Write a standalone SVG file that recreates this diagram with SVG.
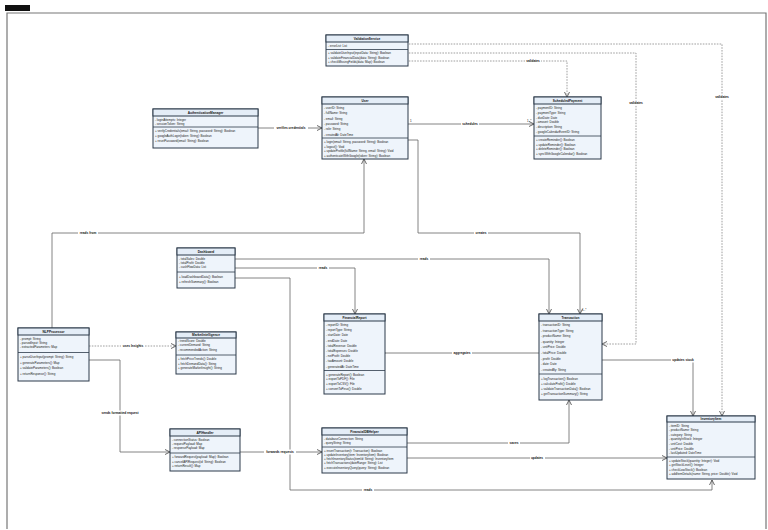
<svg xmlns="http://www.w3.org/2000/svg" width="768" height="530" viewBox="0 0 768 530">
<defs>
<style>
.bg{fill:#ffffff}
.frame{fill:none;stroke:#777;stroke-width:1.2}
.box{fill:#eef4fb;stroke:#2c3a4a;stroke-width:1}
.hd{fill:#e4edf7;stroke:#2c3a4a;stroke-width:1}
.dv{stroke:#2c3a4a;stroke-width:0.8}
.t{font-family:"Liberation Sans",Arial,sans-serif;font-size:3px;fill:#1a1a1a}
.h{font-family:"Liberation Sans",Arial,sans-serif;font-size:3.2px;fill:#111;font-weight:bold;text-anchor:middle}
.c{fill:none;stroke:#666;stroke-width:0.8}
.d{stroke-dasharray:1.6,1.2;stroke:#888}
.lb{font-family:"Liberation Sans",Arial,sans-serif;font-size:3.2px;fill:#111;font-weight:bold;text-anchor:middle}
.lr{fill:#ffffff}
.m{font-family:"Liberation Sans",Arial,sans-serif;font-size:3px;fill:#111}
</style>
<marker id="ar" markerWidth="6" markerHeight="6" refX="5.5" refY="3" orient="auto" markerUnits="userSpaceOnUse">
<path d="M0.5,0.5 L5.5,3 L0.5,5.5" fill="none" stroke="#444" stroke-width="0.8"/>
</marker>
<marker id="dm" markerWidth="9" markerHeight="6" refX="0.5" refY="3" orient="auto" markerUnits="userSpaceOnUse">
<path d="M0.5,3 L4.5,0.8 L8.5,3 L4.5,5.2 Z" fill="#fff" stroke="#444" stroke-width="0.7"/>
</marker>
</defs>
<rect class="bg" x="0" y="0" width="768" height="530"/>
<rect x="5" y="5" width="25" height="6" fill="#111"/>
<path class="frame" d="M7,529 V13 H766 V529"/>

<g id="connectors">
<path class="c" d="M258,128 H322" marker-end="url(#ar)"/>
<path class="c" d="M408,124 H534" marker-end="url(#ar)"/>
<path class="c d" d="M406,44 H722 V416" marker-end="url(#ar)"/>
<path class="c d" d="M406,53 H636 V344 H602" marker-end="url(#ar)"/>
<path class="c d" d="M406,61 H567 V97" marker-end="url(#ar)"/>
<path class="c" d="M52,328 V233 H364 V159" marker-end="url(#ar)"/>
<path class="c" d="M408,140 H418 V233 H580 V314" marker-end="url(#ar)"/>
<path class="c" d="M235,259 H549 V314" marker-end="url(#ar)"/>
<path class="c" d="M235,268 H355 V314" marker-end="url(#ar)"/>
<path class="c" d="M235,278 H290 V490 H712 V480" marker-end="url(#ar)"/>
<path class="c" d="M89,360 H120 V452 H170" marker-end="url(#ar)"/>
<path class="c d" d="M89,346 H176" marker-end="url(#ar)"/>
<path class="c" d="M240,452 H322" marker-end="url(#ar)"/>
<path class="c" d="M407,443 H569 V400" marker-end="url(#ar)"/>
<path class="c" d="M407,458 H667" marker-end="url(#ar)"/>
<path class="c" d="M602,360 H693 V416" marker-end="url(#ar)"/>
<path class="c" d="M539,353 H385.5" marker-end="url(#dm)"/>

<rect class="lr" x="274" y="125.5" width="34" height="5"/><text class="lb" x="291" y="129.2">verifies credentials</text>
<rect class="lr" x="461" y="121.5" width="18" height="5"/><text class="lb" x="470" y="125.2">schedules</text>
<text class="m" x="410" y="122">1</text>
<text class="m" x="527" y="121.5">1..*</text>
<rect class="lr" x="714" y="94.5" width="16" height="5"/><text class="lb" x="722" y="98.2">validates</text>
<rect class="lr" x="628" y="100.5" width="16" height="5"/><text class="lb" x="636" y="104.2">validates</text>
<rect class="lr" x="525" y="58.5" width="16" height="5"/><text class="lb" x="533" y="62.2">validates</text>
<rect class="lr" x="78" y="230.5" width="20" height="5"/><text class="lb" x="88" y="234.2">reads from</text>
<rect class="lr" x="474" y="230.5" width="14" height="5"/><text class="lb" x="481" y="234.2">creates</text>
<text class="m" x="582" y="311">1..*</text>
<rect class="lr" x="418" y="256.5" width="12" height="5"/><text class="lb" x="424" y="260.2">reads</text>
<rect class="lr" x="317" y="265.5" width="12" height="5"/><text class="lb" x="323" y="269.2">reads</text>
<rect class="lr" x="362" y="487.5" width="12" height="5"/><text class="lb" x="368" y="491.2">reads</text>
<rect class="lr" x="99" y="410.5" width="42" height="5"/><text class="lb" x="120" y="414.2">sends formatted request</text>
<rect class="lr" x="121" y="343.5" width="24" height="5"/><text class="lb" x="133" y="347.2">uses Insights</text>
<rect class="lr" x="264" y="449.5" width="32" height="5"/><text class="lb" x="280" y="453.2">forwards requests</text>
<rect class="lr" x="508" y="440.5" width="12" height="5"/><text class="lb" x="514" y="444.2">saves</text>
<rect class="lr" x="530" y="455.5" width="15" height="5"/><text class="lb" x="537" y="459.2">updates</text>
<rect class="lr" x="671" y="357.5" width="24" height="5"/><text class="lb" x="683" y="361.2">updates stock</text>
<rect class="lr" x="452" y="350.5" width="20" height="5"/><text class="lb" x="462" y="354.2">aggregates</text>
</g>

<g id="ValidationService">
<rect class="box" x="326" y="35" width="82" height="31"/>
<rect class="hd" x="326" y="35" width="82" height="7"/>
<line class="dv" x1="326" y1="49.5" x2="408" y2="49.5"/>
<text class="h" x="367" y="39.8">ValidationService</text>
<text class="t" x="328" y="47">- errorList: List</text>
<text class="t" x="328" y="54">+ validateUserInput(inputData: String): Boolean</text>
<text class="t" x="328" y="58.5">+ validateFinancialData(data: String): Boolean</text>
<text class="t" x="328" y="63">+ checkMissingFields(data: Map): Boolean</text>
</g>

<g id="AuthenticationManager">
<rect class="box" x="153" y="109" width="105" height="39"/>
<rect class="hd" x="153" y="109" width="105" height="7"/>
<line class="dv" x1="153" y1="127" x2="258" y2="127"/>
<text class="h" x="205.5" y="113.8">AuthenticationManager</text>
<text class="t" x="155" y="120.5">- loginAttempts: Integer</text>
<text class="t" x="155" y="124.8">- sessionToken: String</text>
<text class="t" x="155" y="132">+ verifyCredentials(email: String, password: String): Boolean</text>
<text class="t" x="155" y="137">+ googleAuthLogin(token: String): Boolean</text>
<text class="t" x="155" y="142">+ resetPassword(email: String): Boolean</text>
</g>

<g id="User">
<rect class="box" x="322" y="97" width="86" height="62"/>
<rect class="hd" x="322" y="97" width="86" height="7"/>
<line class="dv" x1="322" y1="138" x2="408" y2="138"/>
<text class="h" x="365" y="101.8">User</text>
<text class="t" x="324" y="109">- userID: String</text>
<text class="t" x="324" y="114.3">- fullName: String</text>
<text class="t" x="324" y="119.6">- email: String</text>
<text class="t" x="324" y="124.9">- password: String</text>
<text class="t" x="324" y="130.2">- role: String</text>
<text class="t" x="324" y="135.5">- createdAt: DateTime</text>
<text class="t" x="324" y="143">+ login(email: String, password: String): Boolean</text>
<text class="t" x="324" y="147.5">+ logout(): Void</text>
<text class="t" x="324" y="152">+ updateProfile(fullName: String, email: String): Void</text>
<text class="t" x="324" y="156.5">+ authenticateWithGoogle(token: String): Boolean</text>
</g>

<g id="ScheduledPayment">
<rect class="box" x="534" y="97" width="67" height="62"/>
<rect class="hd" x="534" y="97" width="67" height="7"/>
<line class="dv" x1="534" y1="136" x2="601" y2="136"/>
<text class="h" x="567.5" y="101.8">ScheduledPayment</text>
<text class="t" x="536" y="109">- paymentID: String</text>
<text class="t" x="536" y="113.8">- paymentType: String</text>
<text class="t" x="536" y="118.6">- dueDate: Date</text>
<text class="t" x="536" y="123.4">- amount: Double</text>
<text class="t" x="536" y="128.2">- description: String</text>
<text class="t" x="536" y="133">- googleCalendarEventID: String</text>
<text class="t" x="536" y="141">+ createReminder(): Boolean</text>
<text class="t" x="536" y="145.5">+ updateReminder(): Boolean</text>
<text class="t" x="536" y="150">+ deleteReminder(): Boolean</text>
<text class="t" x="536" y="154.5">+ syncWithGoogleCalendar(): Boolean</text>
</g>

<g id="Dashboard">
<rect class="box" x="177" y="248" width="58" height="40"/>
<rect class="hd" x="177" y="248" width="58" height="7"/>
<line class="dv" x1="177" y1="272" x2="235" y2="272"/>
<text class="h" x="206" y="252.8">Dashboard</text>
<text class="t" x="179" y="259.5">- totalSales: Double</text>
<text class="t" x="179" y="263.8">- totalProfit: Double</text>
<text class="t" x="179" y="268.1">- cashFlowData: List</text>
<text class="t" x="179" y="277.5">+ loadDashboardData(): Boolean</text>
<text class="t" x="179" y="282.5">+ refreshSummary(): Boolean</text>
</g>

<g id="FinancialReport">
<rect class="box" x="324" y="314" width="61" height="80"/>
<rect class="hd" x="324" y="314" width="61" height="7"/>
<line class="dv" x1="324" y1="370.5" x2="385" y2="370.5"/>
<text class="h" x="354.5" y="318.8">FinancialReport</text>
<text class="t" x="326" y="326">- reportID: String</text>
<text class="t" x="326" y="331.2">- reportType: String</text>
<text class="t" x="326" y="336.4">- startDate: Date</text>
<text class="t" x="326" y="341.6">- endDate: Date</text>
<text class="t" x="326" y="346.8">- totalRevenue: Double</text>
<text class="t" x="326" y="352">- totalExpenses: Double</text>
<text class="t" x="326" y="357.2">- netProfit: Double</text>
<text class="t" x="326" y="362.4">- taxAmount: Double</text>
<text class="t" x="326" y="367.6">- generatedAt: DateTime</text>
<text class="t" x="326" y="375.5">+ generateReport(): Boolean</text>
<text class="t" x="326" y="380.3">+ exportToPDF(): File</text>
<text class="t" x="326" y="385.1">+ exportToCSV(): File</text>
<text class="t" x="326" y="389.9">+ convertToPeso(): Double</text>
</g>

<g id="Transaction">
<rect class="box" x="539" y="314" width="63" height="86"/>
<rect class="hd" x="539" y="314" width="63" height="7"/>
<line class="dv" x1="539" y1="374" x2="602" y2="374"/>
<text class="h" x="570.5" y="318.8">Transaction</text>
<text class="t" x="541" y="326">- transactionID: String</text>
<text class="t" x="541" y="331.6">- transactionType: String</text>
<text class="t" x="541" y="337.2">- productName: String</text>
<text class="t" x="541" y="342.8">- quantity: Integer</text>
<text class="t" x="541" y="348.4">- unitPrice: Double</text>
<text class="t" x="541" y="354">- totalPrice: Double</text>
<text class="t" x="541" y="359.6">- profit: Double</text>
<text class="t" x="541" y="365.2">- date: Date</text>
<text class="t" x="541" y="370.8">- createdBy: String</text>
<text class="t" x="541" y="379.5">+ logTransaction(): Boolean</text>
<text class="t" x="541" y="384.5">+ calculateProfit(): Double</text>
<text class="t" x="541" y="389.5">+ validateTransactionData(): Boolean</text>
<text class="t" x="541" y="394.5">+ getTransactionSummary(): String</text>
</g>

<g id="NLPProcessor">
<rect class="box" x="18" y="328" width="71" height="53"/>
<rect class="hd" x="18" y="328" width="71" height="7"/>
<line class="dv" x1="18" y1="352.5" x2="89" y2="352.5"/>
<text class="h" x="53.5" y="332.8">NLPProcessor</text>
<text class="t" x="20" y="339.5">- prompt: String</text>
<text class="t" x="20" y="343.8">- parsedInput: String</text>
<text class="t" x="20" y="348.1">- extractedParameters: Map</text>
<text class="t" x="20" y="358">+ parseUserInput(prompt: String): String</text>
<text class="t" x="20" y="363.5">+ generateParameters(): Map</text>
<text class="t" x="20" y="369">+ validateParameters(): Boolean</text>
<text class="t" x="20" y="374.5">+ returnResponse(): String</text>
</g>

<g id="MarketIntelligence">
<rect class="box" x="176" y="332" width="60" height="42"/>
<rect class="hd" x="176" y="332" width="60" height="6"/>
<line class="dv" x1="176" y1="355" x2="236" y2="355"/>
<text class="h" x="206" y="336.4">MarketIntelligence</text>
<text class="t" x="178" y="342">- trendScore: Double</text>
<text class="t" x="178" y="346.3">- currentDemand: String</text>
<text class="t" x="178" y="350.6">- recommendedAction: String</text>
<text class="t" x="178" y="360">+ fetchPriceTrends(): Double</text>
<text class="t" x="178" y="364.5">+ fetchDemandData(): String</text>
<text class="t" x="178" y="369">+ generateMarketInsight(): String</text>
</g>

<g id="APIHandler">
<rect class="box" x="170" y="429" width="70" height="42"/>
<rect class="hd" x="170" y="429" width="70" height="7"/>
<line class="dv" x1="170" y1="453" x2="240" y2="453"/>
<text class="h" x="205" y="433.8">APIHandler</text>
<text class="t" x="172" y="440.5">- connectionStatus: Boolean</text>
<text class="t" x="172" y="444.8">- requestPayload: Map</text>
<text class="t" x="172" y="449.1">- responsePayload: Map</text>
<text class="t" x="172" y="458">+ forwardRequest(payload: Map): Boolean</text>
<text class="t" x="172" y="462.5">+ cancelAPIRequest(id: String): Boolean</text>
<text class="t" x="172" y="467">+ returnResult(): Map</text>
</g>

<g id="FinancialDBHelper">
<rect class="box" x="322" y="428" width="85" height="45"/>
<rect class="hd" x="322" y="428" width="85" height="7"/>
<line class="dv" x1="322" y1="447" x2="407" y2="447"/>
<text class="h" x="364.5" y="432.8">FinancialDBHelper</text>
<text class="t" x="324" y="439.5">- databaseConnection: String</text>
<text class="t" x="324" y="443.8">- queryString: String</text>
<text class="t" x="324" y="451.5">+ insertTransaction(t: Transaction): Boolean</text>
<text class="t" x="324" y="455.8">+ updateInventory(item: InventoryItem): Boolean</text>
<text class="t" x="324" y="460.1">+ fetchInventoryStatus(itemId: String): InventoryItem</text>
<text class="t" x="324" y="464.4">+ fetchTransactions(dateRange: String): List</text>
<text class="t" x="324" y="468.7">+ executeInventoryQuery(query: String): Boolean</text>
</g>

<g id="InventoryItem">
<rect class="box" x="667" y="416" width="88" height="63"/>
<rect class="hd" x="667" y="416" width="88" height="6"/>
<line class="dv" x1="667" y1="457" x2="755" y2="457"/>
<text class="h" x="711" y="420.4">InventoryItem</text>
<text class="t" x="669" y="426.5">- itemID: String</text>
<text class="t" x="669" y="431.1">- productName: String</text>
<text class="t" x="669" y="435.7">- category: String</text>
<text class="t" x="669" y="440.3">- quantityInStock: Integer</text>
<text class="t" x="669" y="444.9">- unitCost: Double</text>
<text class="t" x="669" y="449.5">- unitPrice: Double</text>
<text class="t" x="669" y="454.1">- lastUpdated: DateTime</text>
<text class="t" x="669" y="461.5">+ updateStock(quantity: Integer): Void</text>
<text class="t" x="669" y="466">+ getStockLevel(): Integer</text>
<text class="t" x="669" y="470.5">+ checkLowStock(): Boolean</text>
<text class="t" x="669" y="475">+ addItemDetails(name: String, price: Double): Void</text>
</g>
</svg>
